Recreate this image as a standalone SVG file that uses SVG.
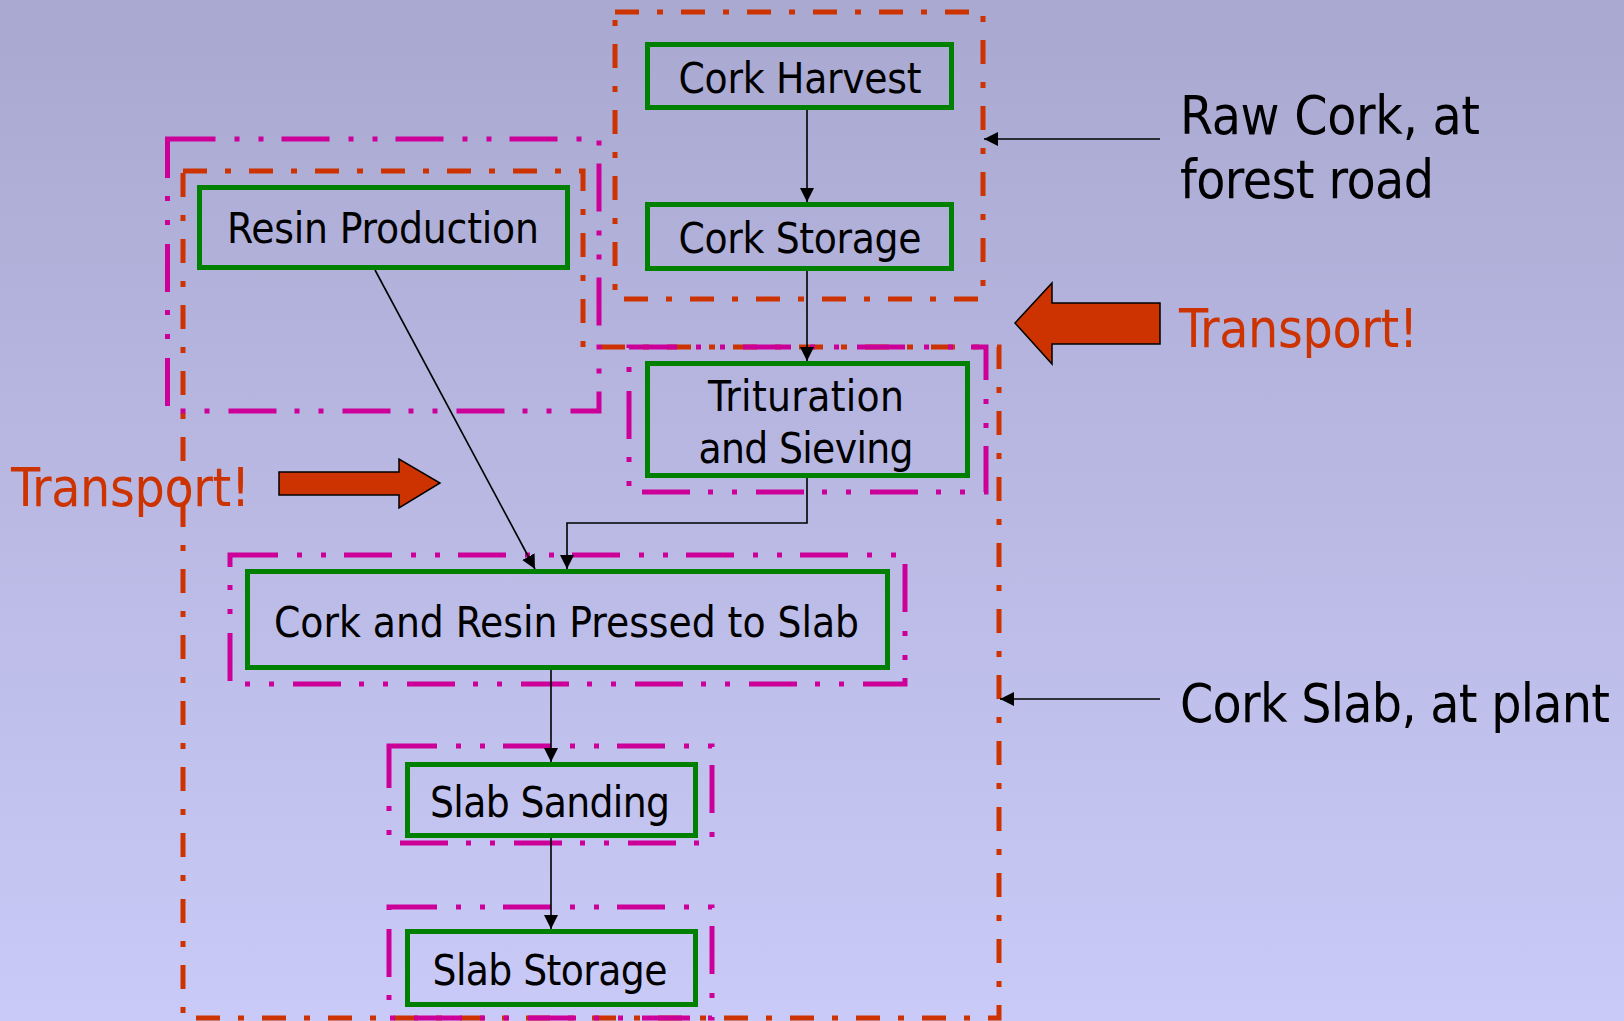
<svg xmlns="http://www.w3.org/2000/svg" width="1624" height="1021" viewBox="0 0 1624 1021">
  <defs>
    <linearGradient id="bg" x1="0" y1="0" x2="0" y2="1">
      <stop offset="0" stop-color="#A8A8D0"/>
      <stop offset="1" stop-color="#CACAF8"/>
    </linearGradient>
    <marker id="arrow" markerUnits="userSpaceOnUse" markerWidth="15" markerHeight="15" refX="14" refY="7" orient="auto">
      <path d="M0,0 L14,7 L0,14 Z" fill="#000"/>
    </marker>
    <style>
      .node rect { fill: none; stroke: #008000; stroke-width: 5; }
      .node text, .label { font-family: "DejaVu Sans Condensed", "DejaVu Sans", sans-serif; font-stretch: condensed; fill: #000; }
      .node text { font-size: 42px; text-anchor: middle; }
      .label { font-size: 53px; }
      .transport { fill: #CC3300; }
      .stage { fill: none; stroke: #CC3300; stroke-width: 5; stroke-dasharray: 24 18 6 18; }
      .step { fill: none; stroke: #CC0099; stroke-width: 5; stroke-dasharray: 48 19 5 19 5 18; }
      .edge { fill: none; stroke: #000; stroke-width: 1.6; marker-end: url(#arrow); }
      .bigarrow { fill: #CC3300; stroke: #000; stroke-width: 1.5; stroke-linejoin: miter; }
    </style>
  </defs>

  <rect width="1624" height="1021" fill="url(#bg)"/>

  <!-- system boundaries -->
  <g id="boundaries">
    <rect class="stage" x="615" y="12" width="368" height="287"/>
    <path class="stage" d="M183,171 H583 V347 H999 V1018 H183 Z"/>
    <rect class="step" x="167.5" y="139" width="431.5" height="272"/>
    <rect class="step" x="629" y="347" width="357" height="145"/>
    <rect class="step" x="230" y="555" width="675" height="129"/>
    <rect class="step" x="389" y="746" width="323" height="97"/>
    <rect class="step" x="389" y="907" width="323" height="111"/>
  </g>

  <!-- process flow -->
  <g id="connectors">
    <path class="edge" d="M807,110 V202"/>
    <path class="edge" d="M807,271 V361"/>
    <path class="edge" d="M375,270 L535,569"/>
    <path class="edge" d="M807,478 V523 H567 V569"/>
    <path class="edge" d="M551,670 V762"/>
    <path class="edge" d="M551,838 V929"/>
    <path class="edge" d="M1160,139 H984"/>
    <path class="edge" d="M1160,699 H1000"/>
  </g>

  <g id="node-cork-harvest" class="node">
    <rect x="647.5" y="44.5" width="304" height="63"/>
    <text x="800" y="93" textLength="243">Cork Harvest</text>
  </g>
  <g id="node-cork-storage" class="node">
    <rect x="647.5" y="204.5" width="304" height="64"/>
    <text x="800" y="253" textLength="243">Cork Storage</text>
  </g>
  <g id="node-resin-production" class="node">
    <rect x="199.5" y="187.5" width="368" height="80"/>
    <text x="383" y="243" textLength="312">Resin Production</text>
  </g>
  <g id="node-trituration" class="node">
    <rect x="647.5" y="363.5" width="320" height="112"/>
    <text x="806" y="411" textLength="196">Trituration</text>
    <text x="806" y="463" textLength="215">and Sieving</text>
  </g>
  <g id="node-pressing" class="node">
    <rect x="247.5" y="571.5" width="640" height="96"/>
    <text x="566.5" y="637" textLength="585">Cork and Resin Pressed to Slab</text>
  </g>
  <g id="node-slab-sanding" class="node">
    <rect x="407.5" y="764.5" width="288" height="71"/>
    <text x="550" y="817" textLength="240">Slab Sanding</text>
  </g>
  <g id="node-slab-storage" class="node">
    <rect x="407.5" y="931.5" width="288" height="73"/>
    <text x="550" y="985" textLength="235">Slab Storage</text>
  </g>

  <!-- transport markers -->
  <g id="transport-right">
    <polygon class="bigarrow" points="1015,323 1052,283 1052,303 1160,303 1160,344 1052,344 1052,364"/>
    <text class="label transport" x="1179" y="347" textLength="239">Transport!</text>
  </g>
  <g id="transport-left">
    <polygon class="bigarrow" points="279,472 399,472 399,459 440,483 399,508 399,495 279,495"/>
    <text class="label transport" x="11" y="506" textLength="239">Transport!</text>
  </g>

  <!-- boundary labels -->
  <g id="label-raw-cork">
    <text class="label" x="1180" y="134" textLength="300">Raw Cork, at</text>
    <text class="label" x="1180" y="198" textLength="254">forest road</text>
  </g>
  <g id="label-cork-slab">
    <text class="label" x="1180" y="722" textLength="430">Cork Slab, at plant</text>
  </g>
</svg>
